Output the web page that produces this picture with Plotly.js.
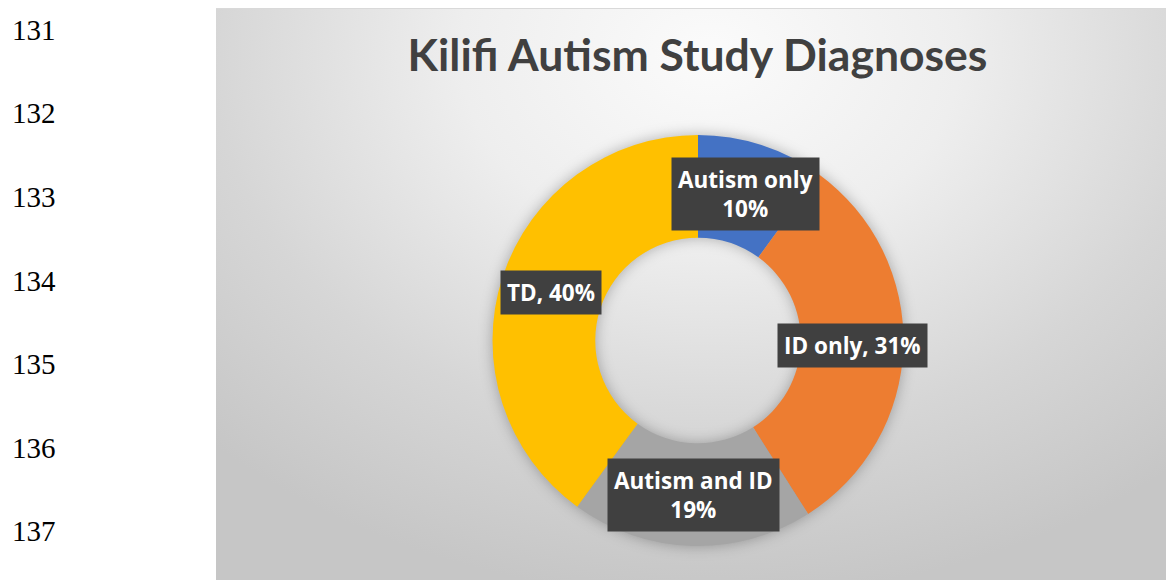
<!DOCTYPE html>
<html>
<head>
<meta charset="utf-8">
<script src="https://cdn.plot.ly/plotly-3.0.1.min.js"></script>
<style>
  html, body { margin: 0; padding: 0; background: #ffffff; }
  #wrap { position: relative; width: 1166px; height: 580px; overflow: hidden; }
  #chartbg {
    position: absolute; left: 216px; top: 8px; width: 950px; height: 572px;
    background: radial-gradient(ellipse 75% 95% at 52% 8%, #fbfbfb 0%, #eeeeee 35%, #d6d6d6 70%, #c6c6c6 100%);
    border-top: 1px solid #d9d9d9;
  }
  #plot { position: absolute; left: 0; top: 0; width: 1166px; height: 580px; }
  #plot .pielayer { filter: drop-shadow(0px 0px 7px rgba(0,0,0,0.28)); }
</style>
</head>
<body>
<div id="wrap">
  <div id="chartbg"></div>
  <div id="plot"></div>
</div>
<script>
// ---- data ----
const categories = ['Autism only', 'ID only', 'Autism and ID', 'TD'];
const percents = [10, 31, 19, 40];
const sliceColors = ['#4472C4', '#ED7D31', '#A5A5A5', '#FFC000'];
const labelSeparators = ['<br>', ', ', '<br>', ', '];
const lineNumbers = ['131', '132', '133', '134', '135', '136', '137'];
const chartTitle = 'Kilifi Autism Study Diagnoses';

// ---- geometry ----
const W = 1166, H = 580;
const cx = 698, cy = 340.5, R = 205.5, holeFrac = 0.5;

const pieTrace = {
  type: 'pie',
  values: percents,
  labels: categories,
  sort: false,
  direction: 'clockwise',
  rotation: 0,
  hole: holeFrac,
  marker: { colors: sliceColors, line: { width: 0 } },
  textinfo: 'none',
  hoverinfo: 'skip',
  showlegend: false,
  domain: { x: [(cx - R) / W, (cx + R) / W], y: [1 - (cy + R) / H, 1 - (cy - R) / H] }
};

// data labels placed at the mid-angle of each slice, on the middle of the ring
const total = percents.reduce((a, b) => a + b, 0);
const annotations = [];
let acc = 0;
const rMid = R * (1 + holeFrac) / 2;
percents.forEach((v, i) => {
  const mid = (acc + v / 2) / total * 2 * Math.PI;
  acc += v;
  const px = cx + rMid * Math.sin(mid);
  const py = cy - rMid * Math.cos(mid);
  annotations.push({
    xref: 'paper', yref: 'paper', x: px / W, y: 1 - py / H,
    xanchor: 'center', yanchor: 'middle', showarrow: false,
    text: '<b>' + categories[i] + labelSeparators[i] + v + '%</b>',
    font: { family: 'Open Sans, sans-serif', size: 22.5, color: '#ffffff' },
    bgcolor: '#404040', borderpad: 6, align: 'center'
  });
});

// document line numbers at the left margin
lineNumbers.forEach((t, i) => {
  annotations.push({
    xref: 'paper', yref: 'paper', x: 10 / W, y: 1 - (30 + i * 83.5) / H,
    xanchor: 'left', yanchor: 'middle', showarrow: false, text: t,
    font: { family: 'Liberation Serif, Times New Roman, serif', size: 29, color: '#000000' }
  });
});

const layout = {
  width: W, height: H,
  margin: { l: 0, r: 0, t: 0, b: 0 },
  paper_bgcolor: 'rgba(0,0,0,0)',
  plot_bgcolor: 'rgba(0,0,0,0)',
  title: {
    text: '<b>' + chartTitle + '</b>',
    x: 697.5 / W, xanchor: 'center', xref: 'paper',
    y: 1 - 55 / H, yanchor: 'middle', yref: 'paper',
    font: { family: 'Lato, sans-serif', size: 44.5, color: '#404040' }
  },
  annotations: annotations,
  showlegend: false
};

Plotly.newPlot('plot', [pieTrace], layout, { staticPlot: true, displayModeBar: false });
</script>
</body>
</html>
